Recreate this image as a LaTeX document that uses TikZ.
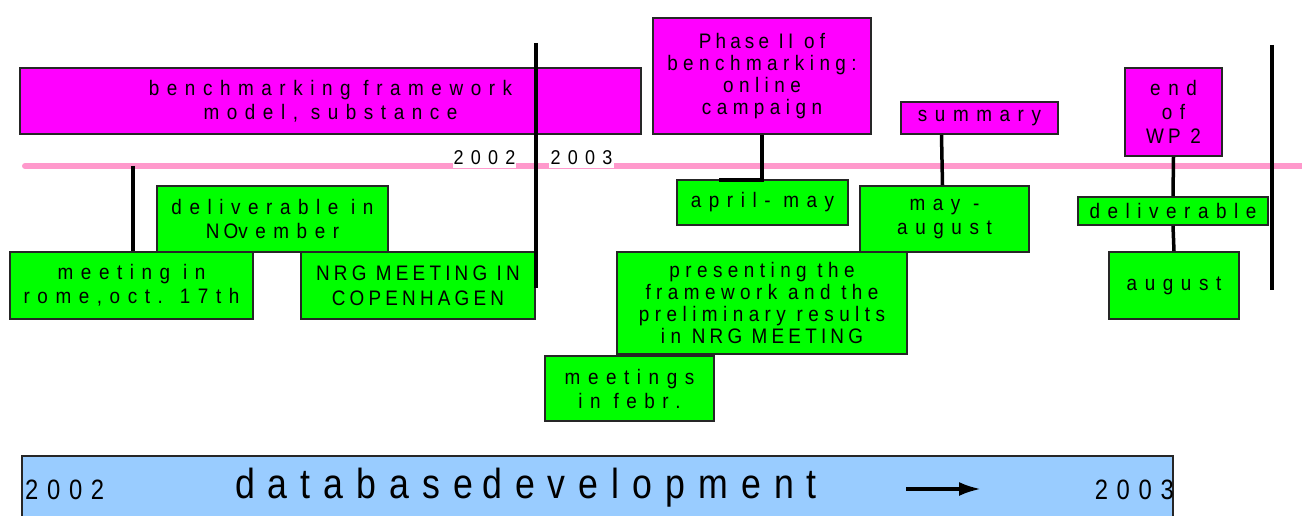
\documentclass[tikz,border=0pt]{standalone}
\usepackage{fontspec}
\usepackage{tikz}
\usetikzlibrary{arrows.meta}

\newfontfamily\wideface{Liberation Sans}[LetterSpace=36,FakeStretch=0.9]
\newfontfamily\tightface{Liberation Sans}[LetterSpace=26,FakeStretch=0.9]
\newfontfamily\capsface{Liberation Sans}[LetterSpace=20,FakeStretch=0.9]
\newfontfamily\barface{Liberation Sans}[LetterSpace=31,FakeStretch=0.85,WordSpace=0.4]
\definecolor{magentabox}{HTML}{FF00FF}
\definecolor{greenbox}{HTML}{00FF00}
\definecolor{barblue}{HTML}{99CCFF}
\definecolor{timeline}{HTML}{FF99CC}

\begin{document}
\begin{tikzpicture}[x=1pt, y=-1pt]
		\tikzstyle{phase_item} = [rectangle, draw=black!85, line width=1.6pt,
		fill=magentabox, inner sep=0pt, align=center,
		font=\wideface\fontsize{21}{24}\selectfont]
		\tikzstyle{task_item} = [phase_item, fill=greenbox]
		\tikzstyle{year_item} = [fill=white, inner sep=0pt, minimum height=20pt,
		font=\wideface\fontsize{20}{21}\selectfont]
		\tikzstyle{tick_line} = [line width=3.5pt]
		\useasboundingbox (0,0) rectangle (1302,516);
		% time line with the two years
		\coordinate (tl_start) at (25,166);
		\coordinate (tl_end) at (1310,166);
		\draw[timeline, line width=6pt, line cap=round] (tl_start) -- (tl_end);
		\node[year_item, minimum width=63pt] (y2002) at (484.5,158) {2002};
		\node[year_item, minimum width=65pt] (y2003) at (581.5,158) {2003};
		% phases above the line
		\node[phase_item, minimum width=621pt, minimum height=66pt] (bench) at (330.5,101)
		{benchmarking framework\\model, substance};
		\node[phase_item, minimum width=218pt, minimum height=116pt,
		font=\tightface\fontsize{21}{22}\selectfont] (phase) at (762,76)
		{{\capsface Phase II} of\\benchmarking:\\online\\campaign};
		\node[phase_item, minimum width=157pt, minimum height=32pt] (summary) at (979.5,118)
		{summary};
		\node[phase_item, minimum width=97pt, minimum height=88pt] (endwp) at (1173.5,112)
		{end\\of\\{\capsface WP 2}};
		% tasks below the line
		\node[task_item, minimum width=231pt, minimum height=66pt] (nov) at (272.5,219)
		{deliverable in\\{\capsface NO}vember};
		\node[task_item, minimum width=243pt, minimum height=67pt] (rome) at (131.5,285.5)
		{meeting in\\rome,oct. 17th};
		\node[task_item, minimum width=234pt, minimum height=67pt,
		font=\capsface\fontsize{21}{25}\selectfont] (nrg) at (418,285.5)
		{NRG MEETING IN\\COPENHAGEN};
		\node[task_item, minimum width=171pt, minimum height=45pt] (aprilmay) at (762.5,202.5)
		{april- may};
		\node[task_item, minimum width=169pt, minimum height=66pt] (mayaug) at (944.5,219)
		{may -\\august};
		\node[task_item, minimum width=290pt, minimum height=102pt,
		font=\tightface\fontsize{21}{22}\selectfont] (present) at (762,303)
		{presenting the\\framework and the\\preliminary results\\in {\capsface NRG MEETING}};
		\node[task_item, minimum width=169pt, minimum height=65pt] (febr) at (629.5,388.5)
		{meetings\\in febr.};
		\node[task_item, minimum width=190pt, minimum height=28pt] (deliv) at (1173,211)
		{deliverable};
		\node[task_item, minimum width=130pt, minimum height=67pt] (august) at (1174,285.5)
		{august};
		% ticks and dividers
		\coordinate (rome_tick) at (133,166);
		\coordinate (div_top) at (536,43);
		\coordinate (div_bot) at (536,288);
		\coordinate (end_top) at (1272,45);
		\coordinate (end_bot) at (1272,290);
		\coordinate (am_join) at (719,180);
		\draw[tick_line] (rome_tick) -- (rome_tick |- rome.north);
		\draw[tick_line] (div_top) -- (div_bot);
		\draw[tick_line] (end_top) -- (end_bot);
		\draw[tick_line] (phase.south) -- (phase.south |- am_join) -- (am_join);
		\draw[tick_line] ([xshift=-38pt]summary.south) -- ([xshift=-2pt]mayaug.north);
		\draw[tick_line] (endwp.south) -- (deliv.north);
		\draw[tick_line] (deliv.south) -- (august.north);
		% database bar
		\node[fill=barblue, inner sep=0pt, minimum width=1151pt, minimum height=60pt]
		(dbbar) at (597.5,486) {};
		\draw[line width=1.6pt, black!85] (dbbar.south west) -- (dbbar.north west)
		-- (dbbar.north east) -- (dbbar.south east);
		\node[anchor=west, inner sep=0pt, font=\barface\fontsize{28}{30}\selectfont]
		(bar2002) at (25,490) {2002};
		\node[anchor=east, inner sep=0pt, font=\barface\fontsize{28}{30}\selectfont]
		(bar2003) at (1174,490) {2003};
		\node[inner sep=0pt, font=\barface\fontsize{42}{44}\selectfont]
		(bartitle) at (526,488) {database development};
		\coordinate (arr_a) at (906,489);
		\coordinate (arr_b) at (981,489);
		\draw[-{Latex[length=22pt,width=14pt]}, line width=3.5pt] (arr_a) -- (arr_b);
	\end{tikzpicture}
\end{document}
